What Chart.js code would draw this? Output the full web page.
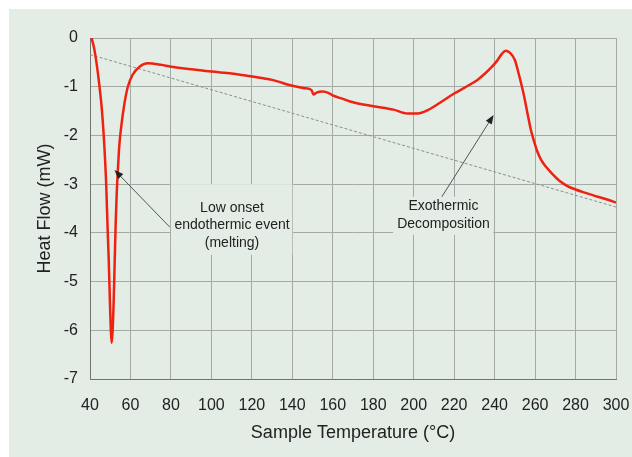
<!DOCTYPE html>
<html lang="en">
<head>
  <meta charset="UTF-8">
  <title>Heat Flow</title>
  <script src="https://cdn.jsdelivr.net/npm/chart.js"></script>
  <style>
    body { margin: 0; background: #ffffff; }
  </style>
</head>
<body>
  <canvas id="dscChart" width="632" height="457"></canvas>

  <script>
    // DSC trace
    const sampleTemp = [40.8, 42, 43, 44, 44.7, 45.5, 46.3, 47.2, 48, 48.7, 49.3, 49.9, 50.3, 50.7, 51.2, 51.7, 52.2, 52.7, 53.2, 53.8, 54.5, 55.5, 57, 58.7, 61, 64.5, 68.5, 75, 80, 90, 100, 110, 120, 130, 140, 146, 149.5, 150.5, 152, 155, 158, 160, 165, 170, 180, 190, 197, 202, 207, 213, 220, 226, 231.5, 235, 238, 241, 243.5, 245.4, 247.5, 250, 252, 254.6, 256.5, 258, 259.5, 261, 263, 265.5, 268.5, 272, 276, 280, 285, 291, 296, 300];
    const heatFlow = [0, -0.2, -0.45, -0.75, -1.0, -1.3, -1.7, -2.3, -3.0, -3.9, -4.6, -5.5, -6.0, -6.26, -6.0, -5.4, -4.6, -3.8, -3.2, -2.7, -2.2, -1.8, -1.35, -1.0, -0.76, -0.59, -0.52, -0.55, -0.59, -0.64, -0.69, -0.73, -0.79, -0.86, -0.98, -1.03, -1.07, -1.16, -1.12, -1.10, -1.13, -1.18, -1.25, -1.32, -1.40, -1.47, -1.55, -1.55, -1.48, -1.33, -1.14, -1.0, -0.86, -0.74, -0.62, -0.48, -0.33, -0.26, -0.3, -0.45, -0.75, -1.2, -1.6, -1.9, -2.12, -2.32, -2.5, -2.65, -2.79, -2.93, -3.04, -3.11, -3.18, -3.26, -3.32, -3.38];

    // dotted baseline
    const baselineTemp = [40, 300];
    const baselineFlow = [-0.34, -3.47];

    const xTicks = [40, 60, 80, 100, 120, 140, 160, 180, 200, 220, 240, 260, 280, 300];
    const yTicks = [0, -1, -2, -3, -4, -5, -6, -7];

    // callouts, in data units
    const notes = [
      { lines: ['Low onset', 'endothermic event', '(melting)'], x: 110.2, y: [-3.50, -3.85, -4.21],
        box: [80, -3.0, 140, -4.45], tip: [52.1, -2.71], tail: [79.4, -3.88] },
      { lines: ['Exothermic', 'Decomposition'], x: 214.7, y: [-3.46, -3.83],
        box: [189.8, -3.26, 239.3, -4.04], tip: [239.5, -1.58], tail: [213.9, -3.26] }
    ];

    const font = "'Liberation Sans', Arial, sans-serif";

    const panelBg = {
      id: 'panelBg',
      beforeDraw(chart) {
        const c = chart.ctx;
        c.save();
        c.fillStyle = '#ffffff';
        c.fillRect(0, 0, chart.width, chart.height);
        c.fillStyle = '#e4ece6';
        c.fillRect(9, 9, chart.width - 9, chart.height - 9);
        c.restore();
      }
    };

    const callouts = {
      id: 'callouts',
      beforeDatasetsDraw(chart) {
        const { ctx: c, scales: { x, y } } = chart;
        c.save();
        c.fillStyle = '#e4ece6';
        notes.forEach(n => {
          const x0 = x.getPixelForValue(n.box[0]), y0 = y.getPixelForValue(n.box[1]);
          const x1 = x.getPixelForValue(n.box[2]), y1 = y.getPixelForValue(n.box[3]);
          c.fillRect(x0, y0, x1 - x0, y1 - y0);
        });
        c.restore();
      },
      afterDatasetsDraw(chart) {
        const { ctx: c, scales: { x, y } } = chart;
        c.save();
        notes.forEach(n => {
          c.fillStyle = '#222222';
          c.font = '14px ' + font;
          c.textAlign = 'center';
          c.textBaseline = 'middle';
          n.lines.forEach((t, i) => c.fillText(t, x.getPixelForValue(n.x), y.getPixelForValue(n.y[i])));

          // arrow
          const tx = x.getPixelForValue(n.tip[0]), ty = y.getPixelForValue(n.tip[1]);
          const sx = x.getPixelForValue(n.tail[0]), sy = y.getPixelForValue(n.tail[1]);
          const a = Math.atan2(ty - sy, tx - sx);
          c.strokeStyle = '#555555';
          c.lineWidth = 1;
          c.beginPath();
          c.moveTo(sx, sy);
          c.lineTo(tx - 6 * Math.cos(a), ty - 6 * Math.sin(a));
          c.stroke();
          c.fillStyle = '#222222';
          c.beginPath();
          c.moveTo(tx, ty);
          c.lineTo(tx - 9 * Math.cos(a) + 3.5 * Math.sin(a), ty - 9 * Math.sin(a) - 3.5 * Math.cos(a));
          c.lineTo(tx - 9 * Math.cos(a) - 3.5 * Math.sin(a), ty - 9 * Math.sin(a) + 3.5 * Math.cos(a));
          c.closePath();
          c.fill();
        });
        c.restore();
      }
    };

    const ctx = document.getElementById('dscChart').getContext('2d');
    new Chart(ctx, {
      type: 'line',
      data: {
        datasets: [{
          data: sampleTemp.map((t, i) => ({ x: t, y: heatFlow[i] })),
          borderColor: '#ee2211',
          borderWidth: 2.5,
          pointRadius: 0,
          cubicInterpolationMode: 'monotone',
          fill: false,
          order: 1
        }, {
          data: baselineTemp.map((t, i) => ({ x: t, y: baselineFlow[i] })),
          borderColor: '#8a8f8c',
          borderWidth: 1,
          borderDash: [3, 2],
          pointRadius: 0,
          fill: false,
          order: 2
        }]
      },
      options: {
        responsive: false,
        animation: false,
        events: [],
        layout: { padding: { top: 38, right: 16, bottom: 0, left: 0 } },
        plugins: { legend: { display: false }, tooltip: { enabled: false } },
        scales: {
          x: {
            type: 'linear',
            min: 40, max: 300,
            afterBuildTicks: s => { s.ticks = xTicks.map(v => ({ value: v })); },
            // fixed axis height, no extra side padding from the labels
            afterFit: s => { s.height = 78; s.paddingLeft = 0; s.paddingRight = 0; },
            grid: { color: '#a3a9a5', drawTicks: false },
            border: { color: '#6f7471' },
            ticks: { color: '#222222', padding: 17, font: { family: font, size: 16 } },
            title: { display: true, text: 'Sample Temperature (°C)', color: '#222222',
                     padding: { bottom: 13 }, font: { family: font, size: 18 } }
          },
          y: {
            min: -7, max: 0,
            afterBuildTicks: s => { s.ticks = yTicks.map(v => ({ value: v })); },
            afterFit: s => { s.width = 90; },
            grid: { color: '#a3a9a5', drawTicks: false },
            border: { color: '#6f7471' },
            ticks: { color: '#222222', padding: 12, font: { family: font, size: 16 } },
            title: { display: true, text: 'Heat Flow (mW)', color: '#222222',
                     padding: { top: 34 }, font: { family: font, size: 18 } }
          }
        }
      },
      plugins: [panelBg, callouts]
    });
  </script>
</body>
</html>
